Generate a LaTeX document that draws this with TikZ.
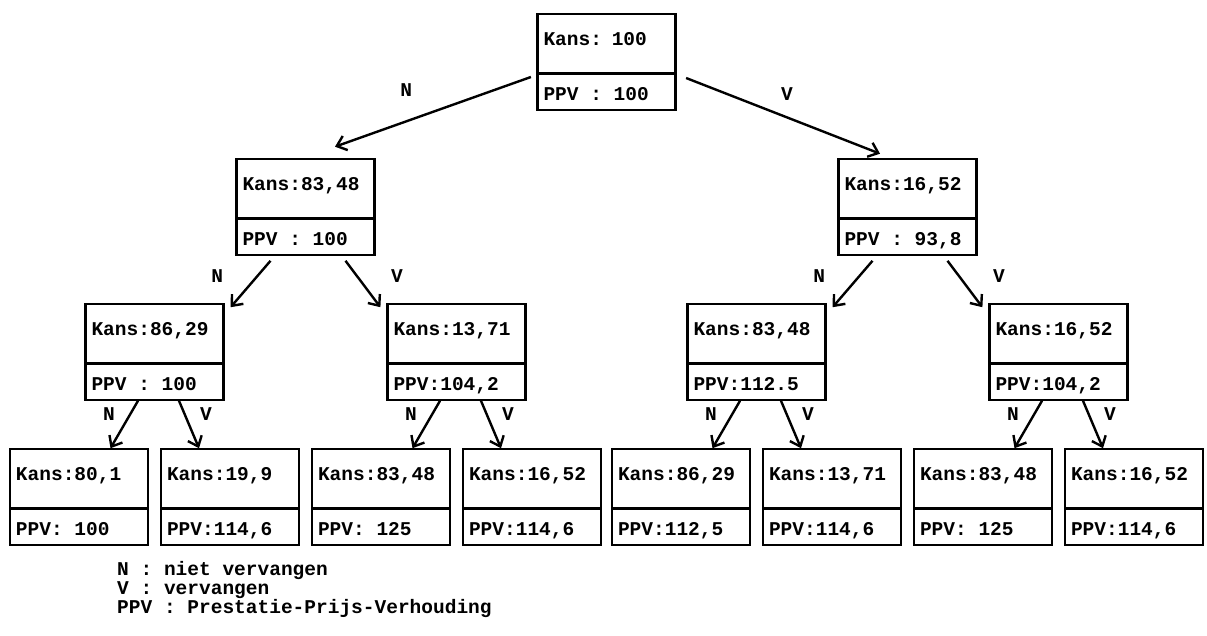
\documentclass[tikz,border=0pt]{standalone}
\usepackage{fontspec}
\setmonofont{Liberation Mono}[WordSpace={1,0,0}, PunctuationSpace=0]
\usepackage{tikz}
\usetikzlibrary{shapes,arrows.meta,positioning}

\newcommand{\kansppv}[2]{\noindent\rule[-27pt]{0pt}{57pt}#1\nodepart{two}\spaceskip=0.6em\relax\xspaceskip=0.6em\relax\noindent\rule[-8pt]{0pt}{34pt}#2}

\tikzset{
  typed/.style={font=\fontsize{19.5pt}{19pt}\selectfont\ttfamily\bfseries},
  kans/.style={typed, draw, line width=2.2pt, rectangle split, rectangle split parts=2,
    text width=126pt, inner xsep=6pt, inner ysep=0pt},
  lbl/.style={typed, inner sep=0pt},
  nroot/.style={edge from parent path={([shift={(-5.5pt,-15pt)}]\tikzparentnode.west) -- ([shift={(29.5pt,11.5pt)}]\tikzchildnode.north)}},
  vroot/.style={edge from parent path={([shift={(9.5pt,-16pt)}]\tikzparentnode.east) -- ([shift={(-27.5pt,4.5pt)}]\tikzchildnode.north)}},
  nmid/.style={edge from parent path={([shift={(-35pt,-5pt)}]\tikzparentnode.south) -- ([shift={(6pt,-4pt)}]\tikzchildnode.north east)}},
  vmid/.style={edge from parent path={([shift={(40pt,-5pt)}]\tikzparentnode.south) -- ([shift={(-6pt,-4pt)}]\tikzchildnode.north west)}},
  nleaf/.style={edge from parent path={([xshift=-16.5pt]\tikzparentnode.south) -- ([xshift=31.5pt]\tikzchildnode.north)}},
  vleaf/.style={edge from parent path={([xshift=24.5pt]\tikzparentnode.south) -- ([xshift=-31pt]\tikzchildnode.north)}}
}

\begin{document}
\begin{tikzpicture}[x=1pt, y=1pt, level distance=145pt,
    level 1/.style={sibling distance=602pt},
    level 2/.style={sibling distance=302pt},
    level 3/.style={sibling distance=151pt},
    edge from parent/.style={draw, line width=2.4pt, -{Straight Barb[length=9pt,width=15pt]}}]
  \useasboundingbox (0,0) rectangle (1207,-635);

  \node[kans] (root) at (606.5,-62) {\kansppv{Kans: 100}{PPV : 100}}
    child[nroot] { node[kans] (l) {\kansppv{Kans:83,48}{PPV : 100}}
      child[nmid] { node[kans] (ll) {\kansppv{Kans:86,29}{PPV : 100}}
        child[nleaf] { node[kans] (lll) {\kansppv{Kans:80,1}{PPV: 100}}
          edge from parent node[lbl, pos=.29, left=14pt] {N} }
        child[vleaf] { node[kans] (llr) {\kansppv{Kans:19,9}{PPV:114,6}}
          edge from parent node[lbl, pos=.29, right=14pt] {V} }
        edge from parent node[lbl, pos=.33, left=33pt] {N} }
      child[vmid] { node[kans] (lr) {\kansppv{Kans:13,71}{PPV:104,2}}
        child[nleaf] { node[kans] (lrl) {\kansppv{Kans:83,48}{PPV: 125}}
          edge from parent node[lbl, pos=.29, left=14pt] {N} }
        child[vleaf] { node[kans] (lrr) {\kansppv{Kans:16,52}{PPV:114,6}}
          edge from parent node[lbl, pos=.29, right=14pt] {V} }
        edge from parent node[lbl, pos=.33, right=33pt] {V} }
      edge from parent node[lbl, pos=.585, above=20pt, xshift=-10pt] {N} }
    child[vroot] { node[kans] (r) {\kansppv{Kans:16,52}{PPV : 93,8}}
      child[nmid] { node[kans] (rl) {\kansppv{Kans:83,48}{PPV:112.5}}
        child[nleaf] { node[kans] (rll) {\kansppv{Kans:86,29}{PPV:112,5}}
          edge from parent node[lbl, pos=.29, left=14pt] {N} }
        child[vleaf] { node[kans] (rlr) {\kansppv{Kans:13,71}{PPV:114,6}}
          edge from parent node[lbl, pos=.29, right=14pt] {V} }
        edge from parent node[lbl, pos=.33, left=33pt] {N} }
      child[vmid] { node[kans] (rr) {\kansppv{Kans:16,52}{PPV:104,2}}
        child[nleaf] { node[kans] (rrl) {\kansppv{Kans:83,48}{PPV: 125}}
          edge from parent node[lbl, pos=.29, left=14pt] {N} }
        child[vleaf] { node[kans] (rrr) {\kansppv{Kans:16,52}{PPV:114,6}}
          edge from parent node[lbl, pos=.29, right=14pt] {V} }
        edge from parent node[lbl, pos=.33, right=33pt] {V} }
      edge from parent node[lbl, pos=.52, above=16pt] {V} };

  % legenda
  \node[lbl, align=left, anchor=north west] (legend) at (117,-561)
    {N : niet vervangen\\V : vervangen\\PPV : Prestatie-Prijs-Verhouding};
\end{tikzpicture}
\end{document}
